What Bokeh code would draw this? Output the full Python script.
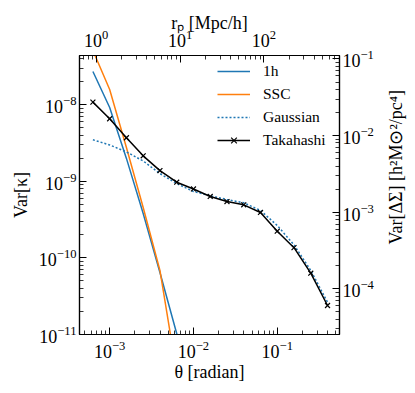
import math
from bokeh.plotting import figure
from bokeh.models import (Range1d, LogScale, LogAxis, FixedTicker, Legend,
                          LegendItem, Label)
from bokeh.embed import file_html
from bokeh.resources import INLINE

# ---- data ----
theta = [6.31e-4, 1.0e-3, 1.585e-3, 2.512e-3, 3.981e-3, 6.31e-3, 1.0e-2,
         1.585e-2, 2.512e-2, 3.981e-2, 6.31e-2, 1.0e-1, 1.585e-1, 2.512e-1,
         3.981e-1]
var_takahashi = [1.08e-8, 6.55e-9, 3.70e-9, 2.15e-9, 1.38e-9, 9.73e-10,
                 7.94e-10, 6.34e-10, 5.44e-10, 4.93e-10, 3.92e-10, 2.23e-10,
                 1.36e-10, 6.31e-11, 2.39e-11]
var_gaussian = [3.48e-9, 2.98e-9, 2.42e-9, 1.84e-9, 1.26e-9, 9.35e-10,
                7.36e-10, 6.47e-10, 5.78e-10, 5.24e-10, 4.16e-10, 2.65e-10,
                1.48e-10, 6.86e-11, 2.64e-11]
theta_short = [6.31e-4, 1.0e-3, 1.585e-3, 2.512e-3, 3.981e-3, 6.31e-3, 1.0e-2]
var_1h = [2.71e-8, 9.18e-9, 1.99e-9, 3.80e-10, 6.44e-11, 1.03e-11, 1.60e-12]
var_ssc = [5.1e-8, 1.58e-8, 2.76e-9, 4.55e-10, 6.86e-11, 3.19e-12, 1.68e-13]

labels = ["1h", "SSC", "Gaussian", "Takahashi"]
colors = ["#1f77b4", "#ff7f0e", "#1f77b4", "black"]

bottom_ticks = [1e-3, 1e-2, 1e-1]
top_ticks = [1, 10, 100]
left_ticks = [1e-11, 1e-10, 1e-9, 1e-8]
right_ticks = [1e-4, 1e-3, 1e-2, 1e-1]

# ---- ranges / axis configuration ----
x_lo, x_hi = 10 ** -3.36, 10 ** -0.257
y_lo, y_hi = 1e-11, 10 ** -7.358
rp_factor = 10 ** 3.16          # r_p = theta * factor
dsig_factor = 10 ** 6.403       # Var[ΔΣ] = Var[κ] * factor

FONT = "Liberation Serif"
RIGHT_LABEL = "Var[ΔΣ] [h²M⊙²/pc⁴]"


def minors(e0, e1):
    return [k * 10.0 ** e for e in range(e0, e1 + 1) for k in range(2, 10)]


p = figure(frame_width=260, frame_height=279,
           x_axis_type="log", y_axis_type="log",
           x_range=Range1d(x_lo, x_hi), y_range=Range1d(y_lo, y_hi),
           output_backend="svg", toolbar_location=None,
           min_border_left=79, min_border_right=70,
           min_border_top=55, min_border_bottom=50,
           background_fill_color="white", border_fill_color="white")
p.xgrid.visible = False
p.ygrid.visible = False
p.outline_line_color = "black"
p.outline_line_width = 1.2

p.extra_x_ranges = {"rp": Range1d(x_lo * rp_factor, x_hi * rp_factor)}
p.extra_x_scales = {"rp": LogScale()}
p.extra_y_ranges = {"dsig": Range1d(y_lo * dsig_factor, y_hi * dsig_factor)}
p.extra_y_scales = {"dsig": LogScale()}


def style(ax, std, lstd):
    ax.axis_line_color = "black"
    ax.axis_line_width = 1.2
    ax.major_tick_in = 7
    ax.major_tick_out = 0
    ax.minor_tick_in = 4
    ax.minor_tick_out = 0
    ax.major_tick_line_color = "black"
    ax.minor_tick_line_color = "black"
    ax.major_tick_line_width = 1
    ax.minor_tick_line_width = 0.8
    ax.major_label_text_font = FONT
    ax.major_label_text_font_size = "18px"
    ax.major_label_text_color = "black"
    ax.major_label_standoff = std
    ax.axis_label_text_font = FONT
    ax.axis_label_text_font_size = "18px"
    ax.axis_label_text_font_style = "normal"
    ax.axis_label_text_color = "black"
    ax.axis_label_standoff = lstd


xb = p.xaxis[0]
xb.ticker = FixedTicker(ticks=bottom_ticks, minor_ticks=minors(-4, -1))
xb.axis_label = "θ [radian]"
style(xb, 6, 1)

yl = p.yaxis[0]
yl.ticker = FixedTicker(ticks=left_ticks, minor_ticks=minors(-11, -8))
yl.axis_label = "Var[κ]"
style(yl, 3, 5)

xt = LogAxis(x_range_name="rp",
             ticker=FixedTicker(ticks=top_ticks, minor_ticks=minors(-1, 2)),
             axis_label="rₚ [Mpc/h]")
style(xt, 9, -6)
p.add_layout(xt, "above")

yr = LogAxis(y_range_name="dsig",
             ticker=FixedTicker(ticks=right_ticks, minor_ticks=minors(-5, -1)))
style(yr, 3, 19)
p.add_layout(yr, "right")

try:
    yr.axis_label_orientation = math.pi / 2
    yr.axis_label = RIGHT_LABEL
    try:
        yr.axis_label_align = "start"
        yr.axis_label = "\u00a0" * 20 + RIGHT_LABEL
    except Exception:
        yr.axis_label = RIGHT_LABEL
except Exception:
    p.add_layout(Label(x=321, y=139.5, x_units="screen", y_units="screen",
                       text=RIGHT_LABEL, angle=90, angle_units="deg",
                       text_align="center", text_baseline="middle",
                       text_font=FONT, text_font_size="18px",
                       text_color="black"))

# ---- curves ----
r1 = p.line(theta_short, var_1h, line_color=colors[0], line_width=1.5)
r2 = p.line(theta_short, var_ssc, line_color=colors[1], line_width=1.5)
r3 = p.line(theta, var_gaussian, line_color=colors[2], line_width=1.5,
            line_dash="2 2")
r4 = p.line(theta, var_takahashi, line_color=colors[3], line_width=1.5)
r5 = p.scatter(theta, var_takahashi, marker="x", size=7, line_color="black",
               line_width=1.2)

legend = Legend(items=[LegendItem(label=labels[0], renderers=[r1]),
                       LegendItem(label=labels[1], renderers=[r2]),
                       LegendItem(label=labels[2], renderers=[r3]),
                       LegendItem(label=labels[3], renderers=[r4, r5])],
                location=(138, 184), border_line_alpha=0,
                background_fill_alpha=0, padding=0, margin=0, spacing=3,
                glyph_width=33, glyph_height=20, label_height=20,
                label_standoff=13, label_text_font=FONT,
                label_text_font_size="15.5px", label_text_color="black")
p.add_layout(legend)

open("out.html", "w").write(file_html(p, INLINE))
